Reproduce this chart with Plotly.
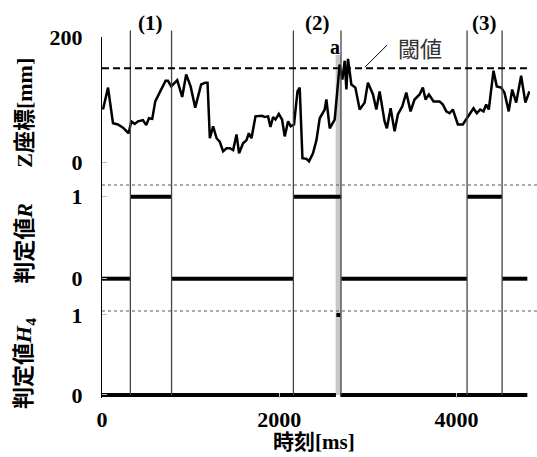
import plotly.graph_objects as go

# ---- data ----
z_time = [11, 68, 124, 180, 237, 301, 330, 369, 406, 462, 499, 530, 567, 601, 650, 680, 718, 744, 781,
          849, 905, 950, 1000, 1052, 1119, 1164, 1191, 1217, 1254, 1293, 1330, 1367, 1405, 1443, 1480,
          1518, 1547, 1592, 1631, 1657, 1687, 1732, 1769, 1807, 1837, 1874, 1901, 1931, 1958, 1995,
          2032, 2062, 2100, 2130, 2167, 2206, 2231, 2262, 2307, 2336, 2381, 2420, 2457, 2513, 2532,
          2570, 2626, 2652, 2682, 2713, 2739, 2758, 2776, 2814, 2859, 2908, 2964, 3001, 3058, 3096,
          3133, 3189, 3215, 3257, 3302, 3339, 3389, 3434, 3482, 3527, 3584, 3621, 3651, 3689, 3742,
          3809, 3847, 3885, 3922, 3959, 4016, 4072, 4110, 4166, 4192, 4230, 4268, 4305, 4335, 4365,
          4418, 4455, 4505, 4542, 4590, 4629, 4674, 4730, 4778, 4823]
z_value = [84, 119, 62, 60, 55, 46, 65, 61, 65, 67, 59, 70, 69, 97, 111, 119, 130, 130, 121,
           131, 104, 140, 121, 87, 124, 127, 127, 38, 57, 38, 32, 17, 22, 22, 19,
           44, 14, 30, 35, 46, 38, 73, 73, 74, 72, 73, 56, 72, 68, 77,
           68, 41, 65, 57, 60, 113, 119, 6, 5, 1, 14, 35, 70, 84, 100,
           54, 68, 111, 156, 132, 162, 116, 165, 124, 119, 84, 95, 127, 108, 84,
           113, 65, 54, 86, 49, 76, 89, 111, 81, 100, 108, 119, 100, 108, 97,
           97, 92, 81, 78, 84, 60, 60, 68, 81, 86, 78, 84, 81, 92, 84,
           146, 121, 119, 111, 81, 116, 95, 138, 95, 113]
threshold = 150

r_start = [0, 320, 785, 2160, 2700, 4120, 4515]
r_end = [320, 785, 2160, 2700, 4120, 4515, 4800]
r_value = [0, 1, 0, 1, 0, 1, 0]

h_start = [0, 2645, 2690]
h_end = [2640, 2690, 4800]
h_value = [0, 1, 0]

interval_start = [320, 2160, 4120]
interval_end = [785, 2697, 4515]
interval_labels = ["(1)", "(2)", "(3)"]
band_start, band_end = 2637, 2697

x_ticks = [0, 2000, 4000]


def steps(starts, ends, vals):
    xs, ys = [], []
    for s, e, v in zip(starts, ends, vals):
        xs += [s, e, None]
        ys += [v, v, None]
    return xs, ys


SERIF = "Liberation Serif"
CJK = "Liberation Serif, Noto Sans CJK JP"

fig = go.Figure()
fig.add_trace(go.Scatter(x=z_time, y=z_value, mode="lines", line=dict(color="black", width=2.5),
                         xaxis="x", yaxis="y", showlegend=False, hoverinfo="skip"))
rx, ry = steps(r_start, r_end, r_value)
fig.add_trace(go.Scatter(x=rx, y=ry, mode="lines", line=dict(color="black", width=4),
                         xaxis="x", yaxis="y2", showlegend=False, hoverinfo="skip"))
hx, hy = steps(h_start, h_end, h_value)
fig.add_trace(go.Scatter(x=hx, y=hy, mode="lines", line=dict(color="black", width=4),
                         xaxis="x", yaxis="y3", showlegend=False, hoverinfo="skip"))

tickfont = dict(family=SERIF, size=22, color="black", weight="bold")
yax_common = dict(showline=True, linecolor="black", linewidth=1, ticks="inside", ticklen=5,
                  tickcolor="#bbbbbb", showgrid=False, zeroline=False, tickfont=tickfont,
                  ticklabelstandoff=14, automargin=False)

# domains (fraction of plot height)
d3 = [0, 0.241]
d2 = [0.241, 0.590]
d1 = [0.590, 1]

fig.update_layout(
    width=537, height=457,
    margin=dict(l=102, r=7, t=37, b=59),
    paper_bgcolor="white", plot_bgcolor="white",
    xaxis=dict(range=[0, 4830], anchor="y3", showline=False, showgrid=False, zeroline=False,
               ticks="inside", ticklen=5, tickcolor="#bbbbbb", tickvals=x_ticks,
               tickfont=tickfont, ticklabelstandoff=6, automargin=False),
    yaxis=dict(domain=d1, range=[-36.8, 200], tickvals=[0, 200], anchor="x", **yax_common),
    yaxis2=dict(domain=d2, range=[-0.394, 1.143], tickvals=[0, 1], anchor="x", **yax_common),
    yaxis3=dict(domain=d3, range=[-0.0375, 1.05], tickvals=[0, 1], anchor="x", **yax_common),
)

shapes = []
# gray band
shapes.append(dict(type="rect", xref="x", yref="paper", x0=band_start, x1=band_end, y0=0.008, y1=0.95,
                   fillcolor="#c8c8c8", line=dict(width=0), layer="below"))
# interval lines
for s, e in zip(interval_start, interval_end):
    for xv in (s, e):
        shapes.append(dict(type="line", xref="x", yref="paper", x0=xv, x1=xv, y0=0.008, y1=1.018,
                           line=dict(color="#444444", width=1.3)))
# threshold
shapes.append(dict(type="line", xref="x", yref="y", x0=0, x1=4800, y0=threshold, y1=threshold,
                   line=dict(color="black", width=2, dash="7px,4px")))
# panel separators
for yv in (d2[1], d3[1]):
    shapes.append(dict(type="line", xref="paper", yref="paper", x0=0, x1=1.02, y0=yv, y1=yv,
                       line=dict(color="#555555", width=1, dash="dot")))
# pointer line to threshold label
shapes.append(dict(type="line", xref="x", yref="y", x0=2969, y0=152, x1=3217, y1=187,
                   line=dict(color="black", width=1)))
fig.update_layout(shapes=shapes)

ann = []
for s, e, lab in zip(interval_start, interval_end, interval_labels):
    ann.append(dict(x=(s + e) / 2, y=1.04, xref="x", yref="paper", text=lab, showarrow=False,
                    xanchor="center", yanchor="middle",
                    font=dict(family=SERIF, size=21, color="black", weight="bold")))
ann.append(dict(x=2626, y=184, xref="x", yref="y", text="a", showarrow=False,
                xanchor="center", yanchor="middle",
                font=dict(family=SERIF, size=20, color="black", weight="bold")))
ann.append(dict(x=3583, y=184, xref="x", yref="y", text="閾値", showarrow=False,
                xanchor="center", yanchor="middle",
                font=dict(family="Noto Sans CJK JP", size=22, color="#333333")))
ann.append(dict(x=-0.18, y=0.79, xref="paper", yref="paper", text="Z座標[mm]", textangle=-90,
                xanchor="center", yanchor="middle", showarrow=False,
                font=dict(family=CJK, size=22, color="black", weight="bold")))
ann.append(dict(x=-0.18, y=0.43, xref="paper", yref="paper", text="判定値<i>R</i>", textangle=-90,
                xanchor="center", yanchor="middle", showarrow=False,
                font=dict(family=CJK, size=22, color="black", weight="bold")))
ann.append(dict(x=-0.18, y=0.097, xref="paper", yref="paper", text="判定値<i>H</i><sub>4</sub>",
                textangle=-90, xanchor="center", yanchor="middle", showarrow=False,
                font=dict(family=CJK, size=22, color="black", weight="bold")))
ann.append(dict(x=0.495, y=-0.122, xref="paper", yref="paper", text="時刻[ms]", showarrow=False,
                xanchor="center", yanchor="middle",
                font=dict(family=CJK, size=21, color="black", weight="bold")))
fig.update_layout(annotations=ann)

fig.write_html("out.html", config={"displayModeBar": False},
               post_script="document.body.style.margin='0px';")
